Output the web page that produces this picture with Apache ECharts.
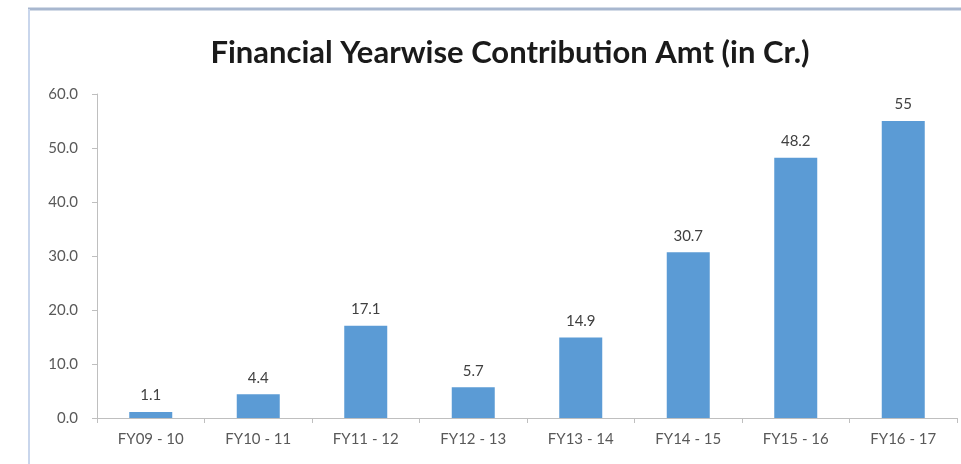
<!DOCTYPE html>
<html>
<head>
<meta charset="utf-8">
<script src="https://cdn.jsdelivr.net/npm/echarts@6/dist/echarts.min.js"></script>
<style>
html,body{margin:0;padding:0;background:#fff;}
#chart{width:961px;height:464px;}
</style>
</head>
<body>
<div id="chart"></div>
<script>
const categories = ['FY09 - 10','FY10 - 11','FY11 - 12','FY12 - 13','FY13 - 14','FY14 - 15','FY15 - 16','FY16 - 17'];
const values = [1.1, 4.4, 17.1, 5.7, 14.9, 30.7, 48.2, 55];
const valueLabels = ['1.1','4.4','17.1','5.7','14.9','30.7','48.2','55'];
const titleText = 'Financial Yearwise Contribution Amt (in Cr.)';

const FONT = 'Lato';
const chart = echarts.init(document.getElementById('chart'), null, {renderer:'canvas'});
chart.setOption({
  backgroundColor: '#ffffff',
  animation: false,
  graphic: [
    {type:'line', shape:{x1:28, y1:9, x2:961, y2:9}, style:{stroke:'#a8b7cf', lineWidth:3}, z:10},
    {type:'line', shape:{x1:29, y1:9, x2:29, y2:464}, style:{stroke:'#c9d6ec', lineWidth:2}, z:10}
  ],
  title: {
    text: titleText,
    left: 505, top: 32, textAlign: 'center',
    textStyle: {fontFamily:FONT, fontWeight:'bold', fontSize:31, color:'#1a1a1a'}
  },
  grid: {left:97, top:94, width:860, height:324, containLabel:false},
  xAxis: {
    type:'category', data: categories,
    axisLine:{lineStyle:{color:'#bfbfbf', width:1}},
    axisTick:{show:true, alignWithLabel:false, length:5, lineStyle:{color:'#bfbfbf'}},
    axisLabel:{color:'#595959', fontSize:15, fontFamily:FONT, margin:14}
  },
  yAxis: {
    type:'value', min:0, max:60, interval:10,
    axisLine:{show:true, lineStyle:{color:'#bfbfbf', width:1}},
    axisTick:{show:true, length:5, lineStyle:{color:'#bfbfbf'}},
    splitLine:{show:false},
    axisLabel:{color:'#595959', fontSize:15, fontFamily:FONT, margin:19,
      formatter: v => v.toFixed(1)}
  },
  series: [{
    type:'bar', data: values, barWidth:43,
    itemStyle:{color:'#5b9bd5'},
    label:{show:true, position:'top', distance:9, color:'#404040', fontSize:15, fontFamily:FONT,
      formatter: p => valueLabels[p.dataIndex]}
  }]
});
</script>
</body>
</html>
